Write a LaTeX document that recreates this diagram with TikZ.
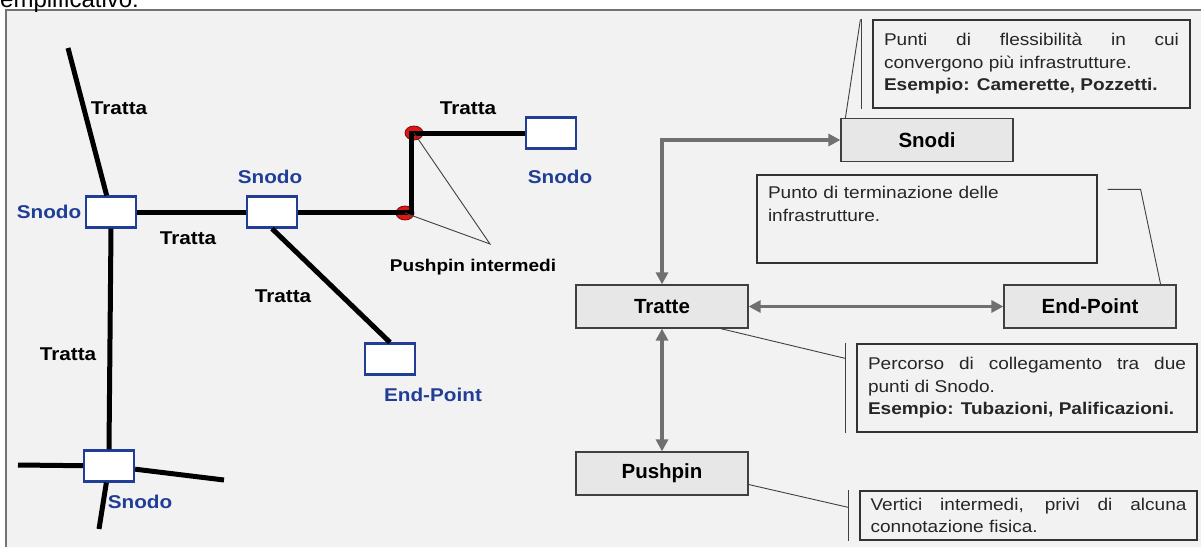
\documentclass[tikz,border=0pt]{standalone}
\usepackage{fontspec}
\setmainfont{Liberation Sans}
\newfontfamily\wideface[FakeStretch=1.12]{Liberation Sans}
\usetikzlibrary{arrows.meta,shapes.geometric}
\definecolor{snodoblue}{RGB}{32,62,150}
\definecolor{pinred}{RGB}{225,20,20}
\definecolor{panelgray}{RGB}{242,242,242}
\definecolor{boxgray}{RGB}{231,231,231}
\definecolor{linkgray}{RGB}{112,112,112}

\begin{document}
\begin{tikzpicture}[x=1pt, y=-1pt,
  snodo/.style={draw=snodoblue, fill=white, line width=2.2pt, minimum width=50pt, minimum height=31pt, inner sep=0pt},
  pin/.style={ellipse, draw=pinred!55!black, line width=0.8pt, fill=pinred, minimum width=18pt, minimum height=14pt, inner sep=0pt},
  tratta/.style={line width=5pt},
  tlabel/.style={font={\wideface\bfseries\fontsize{18.5}{21}\selectfont}},
  slabel/.style={tlabel, text=snodoblue},
  entity/.style={draw=black!75, fill=boxgray, line width=1.2pt, minimum width=172pt, minimum height=43pt, font={\bfseries\fontsize{20.5}{24}\selectfont}},
  link/.style={draw=linkgray, line width=3.6pt, {Triangle[length=12pt,width=12pt]}-{Triangle[length=12pt,width=12pt]}},
  note/.style={draw=black!80, line width=1.2pt, align=justify, inner ysep=5pt, text=black!85, font={\wideface\fontsize{17}{22.5}\selectfont}},
  callout/.style={draw=black!75, line width=0.9pt}]
  \useasboundingbox (0,0) rectangle (1201,546);

  % panel
  \draw[black!55, line width=1.5pt, fill=panelgray] (6,10) rectangle (1215,560);
  \node[anchor=base west, inner sep=0pt, font={\fontsize{24}{28}\selectfont}] (heading) at (0,8) {emplificativo:};

  % network on the left
  \foreach \n/\x/\y in {snA/111/212, snB/272/212, snC/551/133, ep/390/359, snD/109/466}{
    \node[snodo] (\n) at (\x,\y) {};
  }
  \node[pin] (pin1) at (405,213) {};
  \node[pin] (pin2) at (414,133) {};
  \coordinate (bend) at (411,212);

  \coordinate (endTL) at (68,48);
  \coordinate (endDL) at (18,465);
  \coordinate (endDR) at (224,480);
  \coordinate (endDB) at (99,529);

  \draw[tratta] (endTL) -- (snA);
  \draw[tratta] (snA.south) -- (snD.north);
  \draw[tratta] (snA) -- (snB);
  \draw[tratta] (snB) -- (bend) |- (snC);
  \draw[tratta] (snB.south) -- (ep.north);
  \draw[tratta] (endDL) -- (snD);
  \draw[tratta] (snD) -- (endDR);
  \draw[tratta] (snD) -- (endDB);

  \node[tlabel] (trA) at (119,108) {Tratta};
  \node[tlabel] (trB) at (188,238) {Tratta};
  \node[tlabel] (trC) at (283,296) {Tratta};
  \node[tlabel] (trD) at (68,354) {Tratta};
  \node[tlabel] (trE) at (468,108) {Tratta};

  \node[slabel] (lbA) at (49,212) {Snodo};
  \node[slabel] (lbB) at (270,177) {Snodo};
  \node[slabel] (lbC) at (560,177) {Snodo};
  \node[slabel] (lbE) at (433,395) {End-Point};
  \node[slabel] (lbD) at (140,502) {Snodo};

  \coordinate (pinjoin) at (490,244);
  \draw[black!75, line width=0.9pt] (pin2.center) -- (pinjoin) -- (pin1.center);
  \node[tlabel, font={\wideface\bfseries\fontsize{17}{20}\selectfont}] (pinlbl) at (473,267) {Pushpin intermedi};

  % entities on the right
  \node[entity] (snodi) at (927,140) {Snodi};
  \node[entity] (tratte) at (662,306.5) {Tratte};
  \node[entity] (endpt) at (1090,306.5) {End-Point};
  \node[entity] (pushpin) at (662,473.5) {Pushpin};

  \draw[link] (tratte.north) |- (snodi.west);
  \draw[link] (tratte) -- (endpt);
  \draw[link] (tratte) -- (pushpin);

  % notes
  \node[note, text width=295pt, minimum width=317pt, minimum height=88pt] (note1) at (1031.5,64)
    {Punti di flessibilità in cui\linebreak convergono più infrastrutture.\\ \textbf{Esempio: Camerette, Pozzetti.}};
  \node[note, align=left, text width=318pt, minimum width=340pt, minimum height=88pt] (note2) at (927,219)
    {Punto di terminazione delle\\ infrastrutture.\\[8pt] ~};
  \node[note, text width=318pt, minimum width=340pt, minimum height=88pt] (note3) at (1027,388)
    {Percorso di collegamento tra due\linebreak punti di Snodo.\\ \textbf{Esempio: Tubazioni, Palificazioni.}};
  \node[note, text width=316pt, minimum width=337pt, minimum height=49pt] (note4) at (1028.5,515.5)
    {Vertici intermedi, privi di alcuna\linebreak connotazione fisica.};

  \draw[callout] ([xshift=5pt]snodi.north west) -- ([xshift=-12pt]note1.north west);
  \draw[callout] ([xshift=-11pt]note1.north west) -- ([xshift=-11pt]note1.south west);
  \draw[callout] ([xshift=10pt,yshift=-15pt]note2.north east) -- ++(33,0) -- ([xshift=-16pt]endpt.north east);
  \draw[callout] ([xshift=-28pt]tratte.south east) -- ([xshift=-11pt,yshift=-15pt]note3.north west);
  \draw[callout] ([xshift=-11pt]note3.north west) -- ([xshift=-11pt]note3.south west);
  \draw[callout] ([yshift=-11pt]pushpin.east) -- ([xshift=-11pt,yshift=-17pt]note4.north west);
  \draw[callout] ([xshift=-11pt]note4.north west) -- ([xshift=-11pt]note4.south west);
\end{tikzpicture}
\end{document}
